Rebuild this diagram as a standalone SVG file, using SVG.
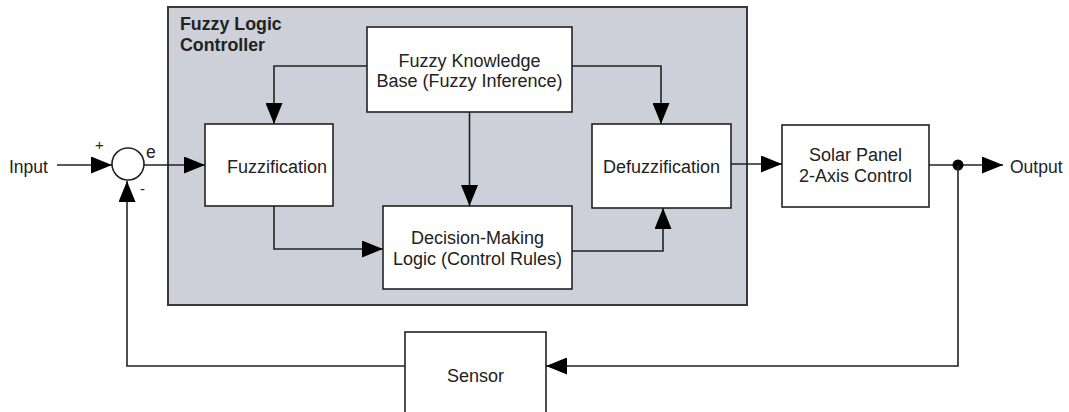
<svg xmlns="http://www.w3.org/2000/svg" width="1069" height="412" viewBox="0 0 1069 412">
  <style>
    .box { fill: #ffffff; stroke: #222222; stroke-width: 1.6; }
    .ctr { fill: #cdd0d8; stroke: #3a3a3a; stroke-width: 2; }
    .lbl { font-family: "Liberation Sans", Arial, sans-serif; font-size: 18px; fill: #222222; text-anchor: middle; }
    .lft { font-family: "Liberation Sans", Arial, sans-serif; font-size: 17.5px; fill: #222222; }
    .ttl { font-family: "Liberation Sans", Arial, sans-serif; font-size: 17.8px; font-weight: bold; fill: #222222; }
    .wire { fill: none; stroke: #222222; stroke-width: 1.6; }
  </style>
  <defs>
    <marker id="arr" markerUnits="userSpaceOnUse" markerWidth="21" markerHeight="17" refX="21" refY="8.5" orient="auto">
      <path d="M0,0 L21,8.5 L0,17 Z" fill="#000000"/>
    </marker>
  </defs>
  <rect width="1069" height="412" fill="#ffffff"/>

  <!-- controller container -->
  <g id="flc">
    <rect class="ctr" x="168" y="7" width="579" height="298"/>
    <text class="ttl" x="180" y="30">Fuzzy Logic</text>
    <text class="ttl" x="180" y="51">Controller</text>
  </g>

  <g id="knowledge">
    <rect class="box" x="367" y="27" width="205" height="85"/>
    <text class="lbl" x="469.5" y="67">Fuzzy Knowledge</text>
    <text class="lbl" x="469.5" y="87">Base (Fuzzy Inference)</text>
  </g>

  <g id="fuzzification">
    <rect class="box" x="205" y="124" width="128" height="82"/>
    <text class="lbl" x="277" y="173">Fuzzification</text>
  </g>

  <g id="defuzzification">
    <rect class="box" x="592" y="124" width="139" height="84"/>
    <text class="lbl" x="661.5" y="173">Defuzzification</text>
  </g>

  <g id="decision">
    <rect class="box" x="383" y="206" width="189" height="83"/>
    <text class="lbl" x="477.5" y="244">Decision-Making</text>
    <text class="lbl" x="477.5" y="265">Logic (Control Rules)</text>
  </g>

  <g id="plant">
    <rect class="box" x="782" y="125" width="147" height="82"/>
    <text class="lbl" x="855.5" y="161">Solar Panel</text>
    <text class="lbl" x="855.5" y="182">2-Axis Control</text>
  </g>

  <g id="sensor">
    <rect class="box" x="405" y="332" width="141" height="84"/>
    <text class="lbl" x="475.5" y="382">Sensor</text>
  </g>

  <g id="summer">
    <circle cx="128" cy="164" r="16" fill="#ffffff" stroke="#222222" stroke-width="1.6"/>
    <text class="lft" x="95" y="150" style="font-size:15px">+</text>
    <text class="lft" x="146" y="158">e</text>
    <text class="lft" x="140" y="194" style="font-size:15px">-</text>
  </g>

  <g id="io">
    <text class="lft" x="9" y="173">Input</text>
    <text class="lft" x="1010" y="173">Output</text>
  </g>

  <!-- signal paths -->
  <g id="connectors">
    <path class="wire" d="M57,165 H112" marker-end="url(#arr)"/>
    <path class="wire" d="M144,165 H205" marker-end="url(#arr)"/>
    <path class="wire" d="M367,66 H274 V124" marker-end="url(#arr)"/>
    <path class="wire" d="M572,66 H661 V124" marker-end="url(#arr)"/>
    <path class="wire" d="M469.5,112 V206" marker-end="url(#arr)"/>
    <path class="wire" d="M274,206 V249 H383" marker-end="url(#arr)"/>
    <path class="wire" d="M572,251 H663 V208" marker-end="url(#arr)"/>
    <path class="wire" d="M731,164 H782" marker-end="url(#arr)"/>
    <path class="wire" d="M929,165 H1003" marker-end="url(#arr)"/>
    <circle cx="958" cy="165" r="5.5" fill="#000000"/>
    <path class="wire" d="M958,165 V366 H546" marker-end="url(#arr)"/>
    <path class="wire" d="M405,366 H127 V181" marker-end="url(#arr)"/>
  </g>
</svg>
